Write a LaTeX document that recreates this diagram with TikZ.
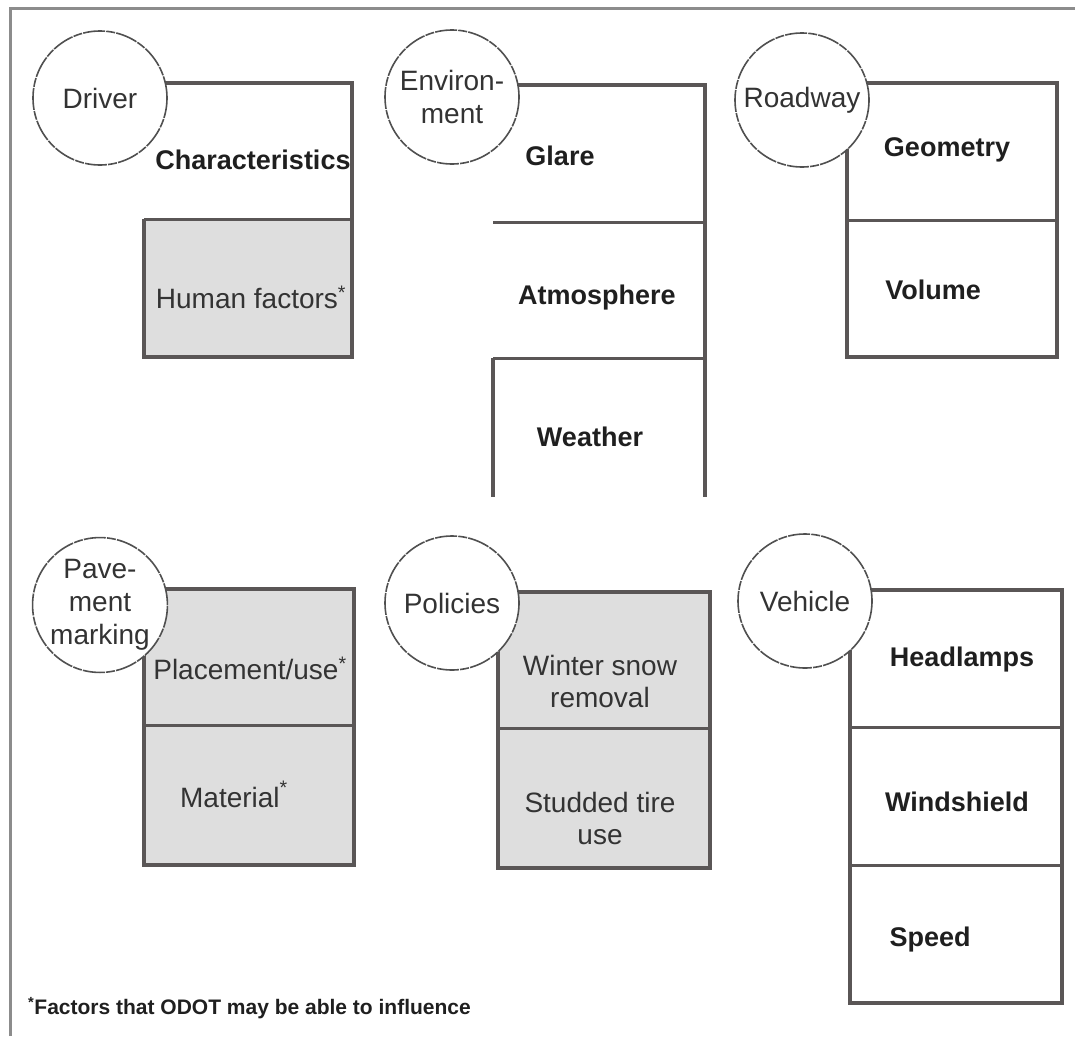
\documentclass[tikz,border=0pt]{standalone}
\usepackage{fontspec}
\setmainfont{Liberation Sans}
\definecolor{boxgray}{HTML}{5A5656}
\definecolor{fillgray}{HTML}{DEDEDE}
\definecolor{framegray}{HTML}{8C8C8C}
\definecolor{circgray}{HTML}{505050}
\definecolor{txtgray}{HTML}{333333}
\begin{document}
\begin{tikzpicture}[x=1pt,y=-1pt,
  boxline/.style={line width=4pt, draw=boxgray, line join=miter},
  divline/.style={line width=3pt, draw=boxgray},
  frameline/.style={line width=3pt, draw=framegray},
  cat/.style={circle, draw=circgray, line width=1.6pt, dash pattern=on 22pt off 1.2pt on 9pt off 1.2pt,
    fill=white, minimum size=134pt, inner sep=0pt, align=center,
    font=\fontsize{28}{33}\selectfont, text=txtgray},
  boldlbl/.style={font=\fontsize{27}{30}\selectfont\bfseries, text=black!88, inner sep=0pt},
  reglbl/.style={font=\fontsize{28}{32}\selectfont, text=txtgray, align=center, inner sep=0pt},
  note/.style={font=\fontsize{21}{24}\selectfont\bfseries, text=black!88, inner sep=0pt, anchor=west}
]
\useasboundingbox (0,0) rectangle (1075,1036);
% outer frame (top and left only visible)
\draw[frameline] (10,1036) -- (10,8) -- (1075,8);

% Driver
\fill[fillgray] (144,219) rectangle (352,357);
\draw[boxline] (144,83) -- (352,83) -- (352,357) -- (144,357) -- (144,219);
\draw[divline] (144,219) -- (352,219);

% Environment
\draw[boxline] (493,85) -- (705,85) -- (705,497);
\draw[divline] (493,222) -- (705,222);
\draw[divline] (493,358) -- (705,358);
\draw[boxline] (493,358) -- (493,497);

% Roadway
\draw[boxline] (847,83) rectangle (1057,357);
\draw[divline] (847,220) -- (1057,220);

% Pavement marking
\fill[fillgray] (144,589) rectangle (354,865);
\draw[boxline] (144,589) rectangle (354,865);
\draw[divline] (144,725) -- (354,725);

% Policies
\fill[fillgray] (498,592) rectangle (710,868);
\draw[boxline] (498,592) rectangle (710,868);
\draw[divline] (498,728) -- (712,728);

% Vehicle
\draw[boxline] (850,590) rectangle (1062,1003);
\draw[divline] (850,727) -- (1062,727);
\draw[divline] (850,865) -- (1062,865);

% category circles
\node[cat] (driver) at (100,98) {Driver};
\node[cat] (env) at (452,97) {Environ-\\ment};
\node[cat] (road) at (802,100) {Roadway};
\node[cat] (pave) at (100,605) {Pave-\\ment\\marking};
\node[cat] (policies) at (452,603) {Policies};
\node[cat] (vehicle) at (805,601) {Vehicle};

% factors
\node[boldlbl] (charac) at (253,160) {Characteristics};
\node[reglbl] (human) at (251,297) {Human factors\textsuperscript{*}};
\node[boldlbl] (glare) at (560,156) {Glare};
\node[boldlbl] (atmo) at (597,298) {Atmosphere};
\node[boldlbl] (weather) at (590,437) {Weather};
\node[boldlbl] (geom) at (947,150) {Geometry};
\node[boldlbl] (volume) at (933,290) {Volume};
\node[reglbl] (place) at (250,668) {Placement/use\textsuperscript{*}};
\node[reglbl] (material) at (234,794) {Material\raisebox{4pt}{\textsuperscript{*}}};
\node[reglbl] (winter) at (600,681) {Winter snow\\removal};
\node[reglbl] (studded) at (600,818) {Studded tire\\use};
\node[boldlbl] (head) at (962,660) {Headlamps};
\node[boldlbl] (wind) at (957,802) {Windshield};
\node[boldlbl] (speed) at (930,940) {Speed};

\node[note] (foot) at (28,1008) {\textsuperscript{*}Factors that ODOT may be able to influence};
\end{tikzpicture}
\end{document}
